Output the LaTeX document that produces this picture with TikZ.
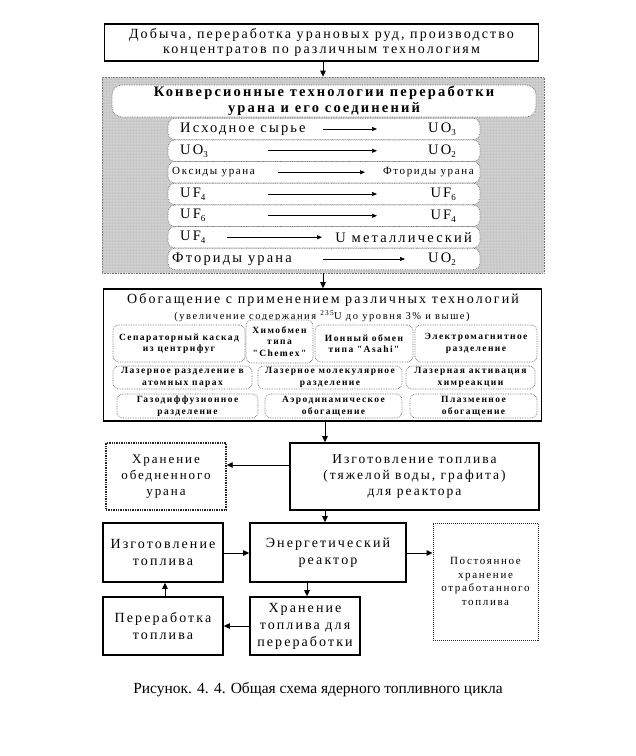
\documentclass[tikz,border=0pt]{standalone}
\usepackage{fontspec}
\setmainfont{Liberation Serif}
\newfontfamily\ls[LetterSpace=15]{Liberation Serif}
\usetikzlibrary{arrows.meta,patterns}
\definecolor{grayfill}{RGB}{200,200,200}
\definecolor{dotline}{RGB}{110,110,110}
\newcommand{\sbs}[1]{\raisebox{-0.45ex}{\fontsize{9}{9}\selectfont #1}}
\begin{document}
\begin{tikzpicture}[x=1pt,y=-1pt,
  box/.style={draw=black, line width=1.6pt, fill=white, inner sep=2pt, align=center, font=\ls\fontsize{14}{15}\selectfont},
  lightbox/.style={draw=black!85, densely dotted, line width=1.4pt, fill=white, inner sep=2pt, align=center},
  pill/.style={draw=dotline, densely dotted, line width=0.7pt, fill=white, rounded corners=7pt, inner sep=0pt},
  sub/.style={draw=dotline, densely dotted, line width=0.7pt, fill=white, rounded corners=6pt, inner sep=1pt, align=center, font=\ls\bfseries\fontsize{9.5}{11.5}\selectfont},
  rowtxt/.style={inner sep=0pt, font=\ls\fontsize{14.5}{15}\selectfont},
  rowsmall/.style={inner sep=0pt, font=\ls\fontsize{11}{12}\selectfont},
  arr/.style={-{Triangle[length=6pt,width=5.5pt]}, line width=0.9pt},
  rarr/.style={-{Triangle[length=5pt,width=4pt]}, line width=0.6pt}]
\useasboundingbox (0,0) rectangle (636,756);

% top box
\node[box, minimum width=434pt, minimum height=37pt] (top) at (321.5,42.5)
  {Добыча, переработка урановых руд, производство\\концентратов по различным технологиям};

% gray conversion block
\node[draw=dotline, densely dotted, line width=0.6pt, fill=grayfill, minimum width=442pt, minimum height=196pt, inner sep=0pt] (conv) at (323,175) {};
\fill[pattern=dots, pattern color=white] (conv.north west) rectangle (conv.south east);
\node[pill, rounded corners=10pt, minimum width=424pt, minimum height=32pt, align=center, font=\ls\bfseries\fontsize{14.5}{16.5}\selectfont] (ctitle) at (324,101)
  {Конверсионные технологии переработки\\урана и его соединений};

% rows
\foreach \n/\yy in {1/129,2/150.75,3/172.25,4/194,5/215.75,6/237.25,7/259}{
  \node[pill, minimum width=312pt, minimum height=21.5pt] (row\n) at (324,\yy) {};
}
\node[rowtxt, anchor=west] (r1a) at (180,129) {Исходное сырье};
\node[rowtxt, anchor=east] (r1b) at (456,129) {UO\sbs{3}};
\coordinate (r1s) at (323,129); \coordinate (r1e) at (377,129);
\draw[rarr] (r1s) -- (r1e);

\node[rowtxt, anchor=west] (r2a) at (180,150.75) {UO\sbs{3}};
\node[rowtxt, anchor=east] (r2b) at (456,150.75) {UO\sbs{2}};
\coordinate (r2s) at (268,150.75); \coordinate (r2e) at (377,150.75);
\draw[rarr] (r2s) -- (r2e);

\node[rowsmall, anchor=west] (r3a) at (172,172.25) {Оксиды урана};
\node[rowsmall, anchor=east] (r3b) at (474,172.25) {Фториды урана};
\coordinate (r3s) at (278,172.25); \coordinate (r3e) at (365,172.25);
\draw[rarr] (r3s) -- (r3e);

\node[rowtxt, anchor=west] (r4a) at (180,194) {UF\sbs{4}};
\node[rowtxt, anchor=east] (r4b) at (456,194) {UF\sbs{6}};
\coordinate (r4s) at (268,194); \coordinate (r4e) at (377,194);
\draw[rarr] (r4s) -- (r4e);

\node[rowtxt, anchor=west] (r5a) at (180,215.75) {UF\sbs{6}};
\node[rowtxt, anchor=east] (r5b) at (456,215.75) {UF\sbs{4}};
\coordinate (r5s) at (268,215.75); \coordinate (r5e) at (377,215.75);
\draw[rarr] (r5s) -- (r5e);

\node[rowtxt, anchor=west] (r6a) at (180,237.25) {UF\sbs{4}};
\node[rowtxt, anchor=east] (r6b) at (472,237.25) {U металлический};
\coordinate (r6s) at (227,237.25); \coordinate (r6e) at (322,237.25);
\draw[rarr] (r6s) -- (r6e);

\node[rowtxt, anchor=west] (r7a) at (172,259) {Фториды урана};
\node[rowtxt, anchor=east] (r7b) at (456,259) {UO\sbs{2}};
\coordinate (r7s) at (323,259); \coordinate (r7e) at (405,259);
\draw[rarr] (r7s) -- (r7e);

% enrichment block
\node[box, minimum width=438pt, minimum height=132pt] (enr) at (322.5,355) {};
\node[inner sep=0pt, font=\ls\fontsize{14}{16}\selectfont] (et1) at (323,300) {Обогащение с применением различных технологий};
\node[inner sep=0pt, font=\ls\fontsize{10.5}{12}\selectfont] (et2) at (322,316) {(увеличение содержания \textsuperscript{235}U до уровня 3\% и выше)};

\node[sub, minimum width=132pt, minimum height=37pt] (s1) at (179,343.5) {Сепараторный каскад\\из центрифуг};
\node[sub, minimum width=67pt, minimum height=43pt] (s2) at (279.5,341.5) {Химобмен\\типа\\"Chemex"};
\node[sub, minimum width=98pt, minimum height=37pt] (s3) at (364,343.5) {Ионный обмен\\типа "Asahi"};
\node[sub, minimum width=122pt, minimum height=37pt] (s4) at (476,343.5) {Электромагнитное\\разделение};
\node[sub, minimum width=139pt, minimum height=23pt] (s5) at (182.5,377.5) {Лазерное разделение в\\атомных парах};
\node[sub, minimum width=144pt, minimum height=23pt] (s6) at (330,377.5) {Лазерное молекулярное\\разделение};
\node[sub, minimum width=129pt, minimum height=23pt] (s7) at (470.5,377.5) {Лазерная активация\\химреакции};
\node[sub, minimum width=141pt, minimum height=24pt] (s8) at (187.5,406) {Газодиффузионное\\разделение};
\node[sub, minimum width=137pt, minimum height=24pt] (s9) at (333.5,406) {Аэродинамическое\\обогащение};
\node[sub, minimum width=127pt, minimum height=24pt] (s10) at (473.5,406) {Плазменное\\обогащение};

% lower part
\node[lightbox, minimum width=120pt, minimum height=67pt, font=\ls\fontsize{13}{16}\selectfont] (dep) at (166,476.5) {Хранение\\обедненного\\урана};
\node[box, minimum width=249pt, minimum height=67pt, font=\ls\fontsize{13.5}{16}\selectfont] (fab) at (414.5,476.5) {Изготовление топлива\\(тяжелой воды, графита)\\для реактора};
\node[box, minimum width=120pt, minimum height=59pt, font=\ls\fontsize{14}{17}\selectfont] (fab2) at (163,552.5) {Изготовление\\топлива};
\node[box, minimum width=156pt, minimum height=59pt, font=\ls\fontsize{14}{17}\selectfont] (reac) at (328,552.5) {Энергетический\\реактор};
\node[lightbox, line width=1pt, minimum width=105pt, minimum height=117pt, font=\ls\fontsize{11}{13.5}\selectfont] (perm) at (485.5,581.5) {Постоянное\\хранение\\отработанного\\топлива};
\node[box, minimum width=110pt, minimum height=58pt, font=\ls\fontsize{14}{17}\selectfont] (store) at (305,626) {Хранение\\топлива для\\переработки};
\node[box, minimum width=120pt, minimum height=58pt, font=\ls\fontsize{14}{17}\selectfont] (proc) at (163,626) {Переработка\\топлива};

\node[inner sep=0pt, font=\fontsize{15.5}{18}\selectfont] (cap) at (318,690) {Рисунок. 4. 4. Общая схема ядерного топливного цикла};

% connectors
\coordinate (x323) at (323,0);
\coordinate (x325) at (325,0);
\coordinate (x307) at (307,0);
\coordinate (x165) at (165,0);
\coordinate (y465) at (0,465);
\coordinate (y553) at (0,553);
\coordinate (y626) at (0,626);
\draw[arr] (top.south -| x323) -- (conv.north -| x323);
\draw[arr] (conv.south -| x323) -- (enr.north -| x323);
\draw[arr] (enr.south -| x325) -- (fab.north -| x325);
\draw[arr] (fab.west |- y465) -- (dep.east |- y465);
\draw[arr] (fab.south -| x325) -- (reac.north -| x325);
\draw[arr] (fab2.east |- y553) -- (reac.west |- y553);
\draw[arr] (reac.east |- y553) -- (perm.west |- y553);
\draw[arr] (reac.south -| x307) -- (store.north -| x307);
\draw[arr] (store.west |- y626) -- (proc.east |- y626);
\draw[arr] (proc.north -| x165) -- (fab2.south -| x165);
\end{tikzpicture}
\end{document}
